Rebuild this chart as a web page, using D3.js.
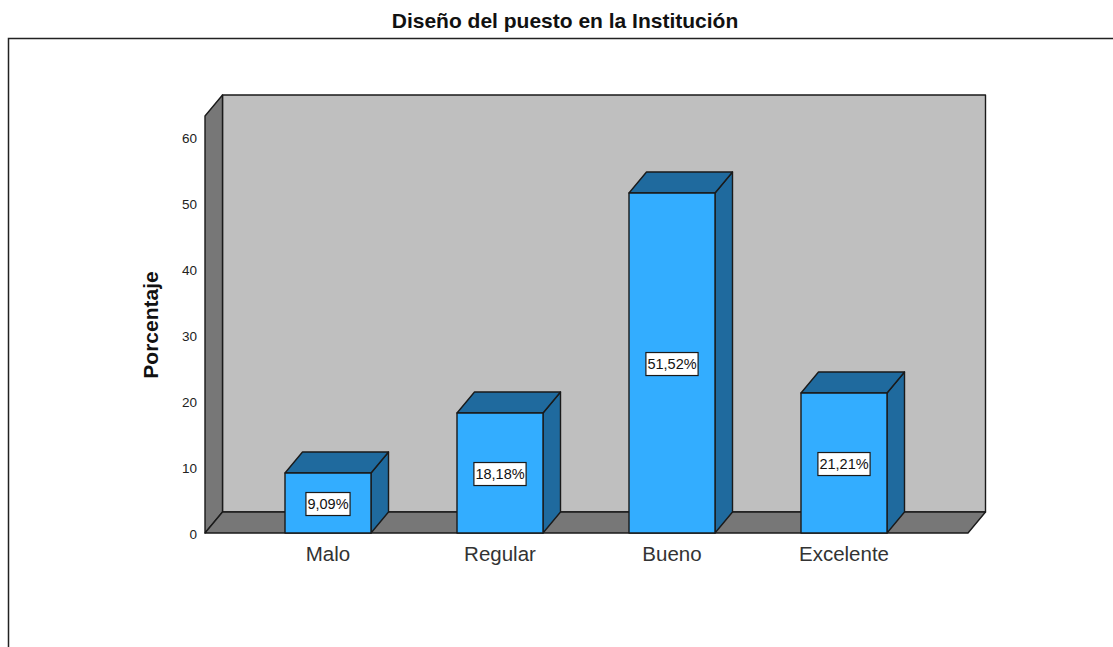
<!DOCTYPE html>
<html>
<head>
<meta charset="utf-8">
<script src="https://cdn.jsdelivr.net/npm/d3@7"></script>
<style>
  html, body { margin: 0; padding: 0; background: #fff; overflow: hidden; }
  text { font-family: "Liberation Sans", Arial, sans-serif; }
</style>
</head>
<body>
<div id="chart"></div>
<script>
// Chart data.
var categories = ["Malo", "Regular", "Bueno", "Excelente"];
var values = [9.09, 18.18, 51.52, 21.21];
var valueLabels = ["9,09%", "18,18%", "51,52%", "21,21%"];
var yTicks = [0, 10, 20, 30, 40, 50, 60];
var yMax = 63.2;

var width = 1113;
var height = 647;

// Offset of the 3D depth.
var depthX = 17.5;
var depthY = -21;

var colors = { wall: "#bfbfbf", side: "#777777", bar: "#33adff", barDark: "#1f6a9e", line: "#1a1a1a" };

var svg = d3.select("#chart").append("svg")
    .attr("width", width)
    .attr("height", height);

// Outer frame, open at the right and bottom.
svg.append("path")
    .attr("d", "M8.5,647V38.5H1113")
    .attr("fill", "none")
    .attr("stroke", "#222")
    .attr("stroke-width", 1.5);

svg.append("text")
    .attr("x", 565)
    .attr("y", 28)
    .attr("text-anchor", "middle")
    .attr("font-size", 21)
    .attr("font-weight", "bold")
    .attr("fill", "#111")
    .text("Diseño del puesto en la Institución");

var y = d3.scaleLinear().domain([0, yMax]).range([533, 116]);
var x = d3.scaleBand().domain(categories).range([242, 930])
    .paddingInner(0.5).paddingOuter(0.25);

var left = 205, right = 968;
var y0 = y(0), yTop = y(yMax);

function poly(points) {
  return "M" + points.map(function(p) { return p.join(","); }).join("L") + "Z";
}

var plot = svg.append("g").attr("stroke", colors.line).attr("stroke-width", 1.4).attr("stroke-linejoin", "round");

// Back wall, side wall and floor.
plot.append("path")
    .attr("d", poly([[left + depthX, yTop + depthY], [right + depthX, yTop + depthY], [right + depthX, y0 + depthY], [left + depthX, y0 + depthY]]))
    .attr("fill", colors.wall);
plot.append("path")
    .attr("d", poly([[left, yTop], [left + depthX, yTop + depthY], [left + depthX, y0 + depthY], [left, y0]]))
    .attr("fill", colors.side);
plot.append("path")
    .attr("d", poly([[left, y0], [left + depthX, y0 + depthY], [right + depthX, y0 + depthY], [right, y0]]))
    .attr("fill", colors.side);

// Bars: side and top faces first, then the front.
var bars = plot.selectAll("g.bar")
    .data(values)
    .enter().append("g")
    .attr("class", "bar");

bars.append("path")
    .attr("fill", colors.barDark)
    .attr("d", function(d, i) {
      var x1 = x(categories[i]) + x.bandwidth();
      return poly([[x1, y(d)], [x1 + depthX, y(d) + depthY], [x1 + depthX, y0 + depthY], [x1, y0]]);
    });
bars.append("path")
    .attr("fill", colors.barDark)
    .attr("d", function(d, i) {
      var x0 = x(categories[i]), x1 = x0 + x.bandwidth();
      return poly([[x0, y(d)], [x0 + depthX, y(d) + depthY], [x1 + depthX, y(d) + depthY], [x1, y(d)]]);
    });
bars.append("rect")
    .attr("fill", colors.bar)
    .attr("x", function(d, i) { return x(categories[i]); })
    .attr("y", function(d) { return y(d); })
    .attr("width", x.bandwidth())
    .attr("height", function(d) { return y0 - y(d); });

// Value labels in white boxes, centred on the bar front.
var labels = svg.selectAll("g.value")
    .data(values)
    .enter().append("g")
    .attr("class", "value")
    .attr("transform", function(d, i) {
      return "translate(" + (x(categories[i]) + x.bandwidth() / 2) + "," + ((y(d) + y0) / 2 + 1) + ")";
    });
var labelText = labels.append("text")
    .attr("text-anchor", "middle")
    .attr("dy", "0.35em")
    .attr("font-size", 14.5)
    .attr("fill", "#111")
    .text(function(d, i) { return valueLabels[i]; });
labels.insert("rect", "text")
    .attr("fill", "#fff")
    .attr("stroke", "#1a1a1a")
    .attr("stroke-width", 1.2)
    .attr("y", -11.5)
    .attr("height", 23)
    .attr("width", function(d, i) { return labelText.nodes()[i].getComputedTextLength() + 3; })
    .attr("x", function(d, i) { return -(labelText.nodes()[i].getComputedTextLength() + 3) / 2; });

// Axes
var yAxis = svg.append("g")
    .attr("transform", "translate(" + left + ",1.5)")
    .call(d3.axisLeft(y).tickValues(yTicks).tickSize(0).tickPadding(8));
yAxis.select(".domain").remove();
yAxis.selectAll("text").attr("font-size", 13.5).attr("font-family", null).attr("fill", "#222");

var xAxis = svg.append("g")
    .attr("transform", "translate(0," + y0 + ")")
    .call(d3.axisBottom(x).tickSize(0).tickPadding(13));
xAxis.select(".domain").remove();
xAxis.selectAll("text").attr("font-size", 20.5).attr("font-family", null).attr("fill", "#333");

svg.append("text")
    .attr("transform", "translate(158,325) rotate(-90)")
    .attr("text-anchor", "middle")
    .attr("font-size", 21)
    .attr("font-weight", "bold")
    .attr("fill", "#111")
    .text("Porcentaje");
</script>
</body>
</html>
